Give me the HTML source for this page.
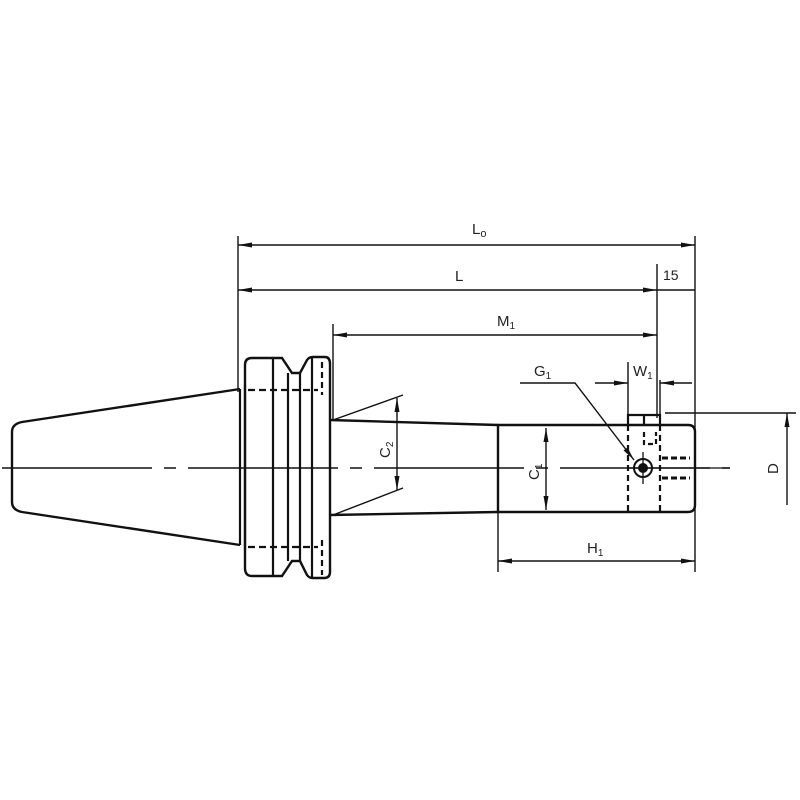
<!DOCTYPE html>
<html><head><meta charset="utf-8"><style>html,body{margin:0;padding:0;background:#fff}svg{display:block}</style></head>
<body>
<svg width="800" height="800" viewBox="0 0 800 800" xmlns="http://www.w3.org/2000/svg" font-family="Liberation Sans, sans-serif" fill="none" stroke="#111">
<defs>
<marker id="a" viewBox="0 0 14 6" refX="14" refY="3" markerWidth="14" markerHeight="6" orient="auto-start-reverse" markerUnits="userSpaceOnUse"><path d="M0,0.5 L14,3 L0,5.5z" fill="#111" stroke="none"/></marker>
</defs>
<!-- centerline -->
<path d="M2,468 H730" stroke-width="1.4" stroke-dasharray="150,12,12,12"/>
<!-- taper -->
<path d="M240,389 L22,422 Q12,424 12,432 V502 Q12,510 22,512 L240,545" stroke-width="2.4"/>
<path d="M240,389 V545 M245,385 V550" stroke-width="2.2"/>
<!-- flange -->
<path d="M245,365 Q245,358 252,358 H282 L292,373 H300 L307,360 Q309,357 313,357 H325 Q330,357 330,364 V572 Q330,578 324,578 H313 Q309,578 307,575 L300,561 H292 L282,576 H252 Q245,576 245,568 Z" stroke-width="2.4"/>
<path d="M273,358 V576 M288,373 V561 M300,373 V561 M312,357 V578" stroke-width="2.2"/>
<path d="M248,390 H318 M248,547 H318" stroke-width="2.2" stroke-dasharray="7,4"/>
<path d="M322,362 V395 M322,540 V575" stroke-width="2.2" stroke-dasharray="6,4"/>
<!-- shank -->
<path d="M330,420 L498,425 M330,515 L498,512" stroke-width="2.4"/>
<!-- body -->
<path d="M498,425 H688 Q695,425 695,432 V505 Q695,512 688,512 H498 Z" stroke-width="2.4"/>
<path d="M628,425 V415 H660 V425 M644,415 V425" stroke-width="2.2"/>
<path d="M628,425 V512 M660,425 V512" stroke-width="2.2" stroke-dasharray="6,4"/>
<path d="M644,432 V444 H656 V432" stroke-width="2.2" stroke-dasharray="5,3"/>
<path d="M662,458 H690 M662,478 H690" stroke-width="3" stroke-dasharray="6,3"/>
<circle cx="643" cy="468" r="9" stroke-width="2"/>
<circle cx="643" cy="468" r="4.5" fill="#111"/>
<path d="M643,452 V484 M629,468 H730" stroke-width="1.3"/>
<!-- extension lines -->
<path d="M238,236 V392 M695,236 V572 M657,264 V418 M333,324 V420 M498,512 V572 M628,362 V415 M660,415 V380 M665,413 H796" stroke-width="1.4"/>
<!-- dims -->
<path d="M238,245 H695" stroke-width="1.4" marker-start="url(#a)" marker-end="url(#a)"/>
<path d="M238,290 H657" stroke-width="1.4" marker-start="url(#a)" marker-end="url(#a)"/>
<path d="M657,290 H695" stroke-width="1.4"/>
<path d="M333,335 H657" stroke-width="1.4" marker-start="url(#a)" marker-end="url(#a)"/>
<path d="M595,383 H628" stroke-width="1.4" marker-end="url(#a)"/>
<path d="M692,383 H660" stroke-width="1.4" marker-end="url(#a)"/>
<path d="M498,561 H695" stroke-width="1.4" marker-start="url(#a)" marker-end="url(#a)"/>
<path d="M546,428 V510" stroke-width="1.4" marker-start="url(#a)" marker-end="url(#a)"/>
<path d="M397,398 V490" stroke-width="1.4" marker-start="url(#a)" marker-end="url(#a)"/>
<path d="M333,420 L403,395 M333,515 L403,488" stroke-width="1.4"/>
<path d="M787,413 V505" stroke-width="1.4" marker-start="url(#a)"/>
<path d="M520,383 H575 L634,460" stroke-width="1.4" marker-end="url(#a)"/>
<!-- labels -->
<g fill="#222" stroke="none" font-size="15">
<text x="472" y="234">L<tspan font-size="11" dy="3">o</tspan></text>
<text x="455" y="281">L</text>
<text x="663" y="280" font-size="14">15</text>
<text x="497" y="326">M<tspan font-size="10" dy="3">1</tspan></text>
<text x="534" y="376">G<tspan font-size="10" dy="3">1</tspan></text>
<text x="633" y="376">W<tspan font-size="10" dy="3">1</tspan></text>
<text x="587" y="553">H<tspan font-size="10" dy="3">1</tspan></text>
<text transform="translate(539,480) rotate(-90)">C<tspan font-size="10" dy="3" dx="0">1</tspan></text>
<text transform="translate(390,458) rotate(-90)">C<tspan font-size="10" dy="3">2</tspan></text>
<text transform="translate(778,474) rotate(-90)">D</text>
</g>
</svg>
</body></html>
